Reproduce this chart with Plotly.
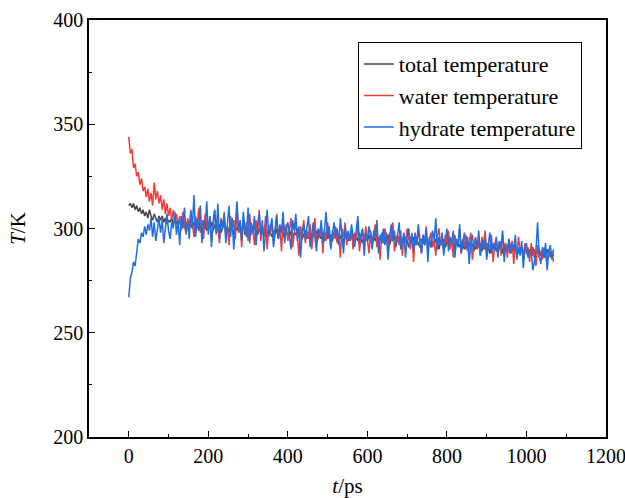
import plotly.graph_objects as go

time_ps = list(range(0, 1072, 4))

total_temp = [
    311, 312, 310, 312, 309, 311, 308, 310, 307, 309,
    306, 308, 305, 309, 306, 304, 307, 305, 303, 306,
    304, 306, 303, 305, 302, 304, 303, 305, 302, 304,
    303, 301, 304, 302, 305, 300, 303, 301, 304, 302,
    300, 303, 301, 304, 299, 302, 300, 303, 301, 299,
    302, 300, 303, 299, 301, 304, 300, 302, 298, 301,
    303, 299, 301, 298, 302, 300, 297, 301, 299, 302,
    298, 300, 302, 297, 301, 299, 296, 300, 298, 301,
    299, 297, 300, 298, 301, 296, 299, 297, 300, 298,
    296, 299, 297, 300, 295, 298, 300, 296, 299, 297,
    298, 296, 299, 295, 298, 297, 300, 296, 298, 295,
    297, 299, 295, 298, 296, 294, 298, 296, 299, 295,
    297, 295, 298, 294, 297, 299, 295, 297, 294, 298,
    296, 294, 297, 295, 298, 293, 296, 298, 294, 296,
    295, 297, 293, 296, 294, 298, 295, 293, 297, 295,
    294, 297, 295, 292, 296, 294, 297, 293, 295, 296,
    293, 296, 294, 297, 292, 295, 294, 296, 293, 295,
    296, 292, 295, 293, 296, 294, 291, 295, 293, 296,
    292, 295, 293, 291, 295, 294, 292, 296, 293, 294,
    291, 294, 292, 295, 293, 290, 294, 292, 295, 291,
    293, 295, 291, 294, 292, 290, 294, 293, 291, 294,
    292, 290, 293, 291, 294, 289, 292, 293, 290, 292,
    291, 293, 289, 292, 290, 293, 291, 288, 292, 290,
    292, 289, 291, 290, 293, 288, 291, 289, 292, 290,
    288, 291, 289, 292, 287, 290, 289, 291, 288, 290,
    289, 287, 290, 288, 291, 286, 289, 288, 290, 287,
    289, 286, 288, 290, 287, 289, 286, 288,
]

water_temp = [
    344, 336, 338, 329, 331, 325, 327, 321, 324, 318,
    320, 315, 319, 313, 317, 311, 322, 314, 318, 312,
    316, 309, 314, 307, 312, 306, 310, 304, 309, 303,
    307, 301, 306, 299, 308, 302, 297, 305, 300, 309,
    303, 296, 306, 300, 310, 298, 304, 295, 307, 301,
    299, 306, 294, 303, 309, 297, 302, 293, 305, 300,
    308, 296, 301, 292, 306, 299, 304, 295, 310, 298,
    302, 291, 305, 298, 303, 294, 307, 297, 300, 292,
    304, 298, 309, 294, 301, 296, 306, 290, 302, 297,
    303, 293, 299, 307, 295, 301, 289, 304, 298, 302,
    294, 300, 305, 291, 298, 303, 296, 287, 301, 297,
    304, 293, 299, 295, 302, 290, 297, 305, 292, 299,
    296, 302, 288, 300, 294, 303, 297, 291, 299, 295,
    301, 293, 298, 286, 300, 296, 303, 292, 297, 294,
    300, 290, 298, 295, 302, 289, 296, 299, 293, 301,
    295, 288, 299, 294, 297, 302, 291, 296, 285, 298,
    293, 300, 296, 290, 298, 294, 303, 289, 295, 297,
    292, 299, 287, 296, 293, 300, 295, 290, 298, 284,
    296, 292, 299, 294, 288, 297, 293, 301, 290, 295,
    298, 291, 294, 287, 296, 300, 292, 295, 289, 297,
    293, 299, 290, 295, 286, 297, 292, 294, 300, 288,
    295, 291, 297, 289, 294, 298, 285, 293, 296, 290,
    294, 287, 296, 292, 299, 288, 293, 290, 297, 284,
    292, 295, 289, 294, 287, 297, 291, 293, 286, 295,
    290, 294, 283, 292, 288, 296, 289, 291, 285, 293,
    288, 291, 284, 293, 287, 290, 282, 292, 286, 289,
    285, 291, 287, 283, 290, 286, 289, 284,
]

hydrate_temp = [
    267, 276, 279, 284, 282, 290, 295, 293, 298, 296,
    301, 297, 302, 299, 305, 296, 303, 294, 300, 305,
    298, 304, 293, 301, 307, 299, 295, 303, 300, 308,
    297, 304, 292, 306, 300, 310, 298, 303, 295, 308,
    301, 316, 296, 305, 299, 311, 293, 304, 300, 313,
    297, 306, 291, 303, 309, 298, 312, 295, 304, 300,
    307, 293, 301, 311, 296, 305, 290, 302, 313, 299,
    304, 294, 308, 300, 296, 310, 293, 303, 298, 306,
    292, 301, 307, 297, 304, 289, 302, 309, 296, 300,
    305, 291, 299, 306, 295, 302, 298, 308, 293, 300,
    303, 296, 290, 304, 299, 307, 294, 301, 286, 298,
    302, 295, 300, 306, 291, 298, 303, 296, 289, 300,
    297, 304, 293, 299, 308, 295, 301, 290, 298, 303,
    296, 300, 292, 305, 297, 288, 301, 295, 299, 294,
    302, 297, 291, 299, 306, 293, 296, 300, 287, 298,
    294, 301, 297, 290, 299, 295, 304, 288, 297, 293,
    300, 292, 298, 285, 296, 302, 294, 299, 291, 297,
    303, 290, 295, 298, 286, 296, 300, 293, 297, 289,
    298, 292, 302, 295, 288, 297, 293, 300, 284, 296,
    291, 299, 294, 305, 290, 296, 292, 298, 287, 294,
    300, 289, 296, 293, 299, 286, 295, 291, 302, 288,
    294, 298, 290, 296, 283, 293, 297, 289, 295, 291,
    299, 287, 294, 290, 296, 285, 292, 298, 288, 293,
    290, 296, 286, 294, 291, 299, 284, 292, 289, 295,
    288, 293, 290, 297, 285, 291, 287, 294, 281, 290,
    293, 286, 290, 289, 280, 284, 290, 303, 287, 283,
    291, 286, 293, 280, 289, 292, 285, 290,
]

series_names = ["total temperature", "water temperature", "hydrate temperature"]
x_ticks = [0, 200, 400, 600, 800, 1000, 1200]
y_ticks = [200, 250, 300, 350, 400]

colors = ["#474747", "#f03c3c", "#1f6fe0"]
font_family = "Liberation Serif"

fig = go.Figure()
for name, vals, col in zip(series_names, [total_temp, water_temp, hydrate_temp], colors):
    fig.add_trace(go.Scatter(x=time_ps, y=vals, mode="lines", name=name,
                             line=dict(color=col, width=1.5)))

axis_common = dict(
    showgrid=False, zeroline=False, showline=True, linecolor="black", linewidth=1.5,
    mirror=True, ticks="inside", ticklen=6, tickwidth=1.2, tickcolor="black",
    tickfont=dict(family=font_family, size=20, color="black"),
    automargin=False, ticklabeloverflow="allow",
)

fig.update_xaxes(range=[-100, 1200], tickvals=x_ticks,
                 minor=dict(dtick=100, ticks="inside", ticklen=3, tickcolor="black", tickwidth=1),
                 title=dict(text="<i>t</i>/ps", font=dict(family=font_family, size=21, color="black"),
                            standoff=16),
                 **axis_common)
fig.update_yaxes(range=[200, 400], tickvals=y_ticks,
                 minor=dict(dtick=25, ticks="inside", ticklen=3, tickcolor="black", tickwidth=1),
                 title=dict(text="<i>T</i>/K", font=dict(family=font_family, size=21, color="black"),
                            standoff=22),
                 **axis_common)

fig.update_layout(
    width=625, height=498,
    margin=dict(l=89, r=19, t=20, b=61),
    plot_bgcolor="white", paper_bgcolor="white",
    font=dict(family=font_family, size=20, color="black"),
    legend=dict(x=0.52, y=0.947, xanchor="left", yanchor="top",
                bordercolor="black", borderwidth=1, bgcolor="white",
                font=dict(family=font_family, size=22, color="black"),
                tracegroupgap=0, itemwidth=30),
    showlegend=True,
)

fig.write_html("out.html", config={"displayModeBar": False},
               post_script="document.body.style.margin='0px';document.body.style.overflow='hidden';")
